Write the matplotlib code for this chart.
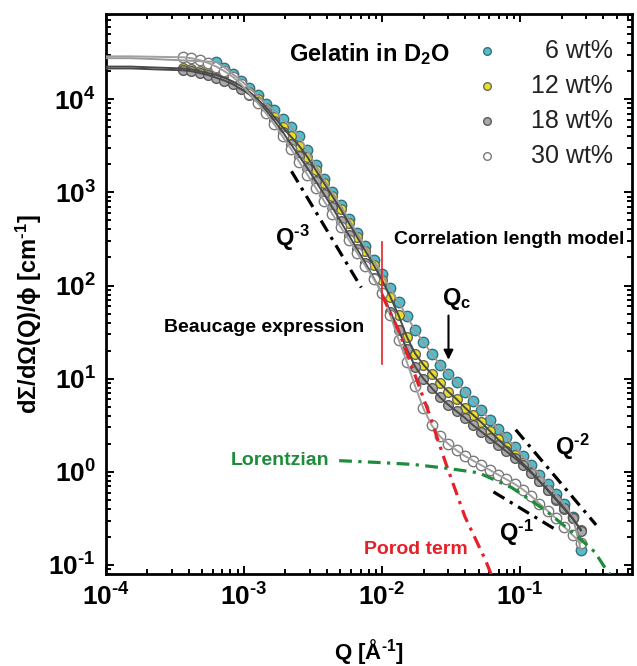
import numpy as np
import matplotlib
matplotlib.use("Agg")
import matplotlib.pyplot as plt
from matplotlib.ticker import LogLocator, FuncFormatter, NullFormatter

plt.rcParams['font.family'] = ['Liberation Sans', 'DejaVu Sans']
plt.rcParams['font.weight'] = 'bold'
plt.rcParams['axes.labelweight'] = 'bold'
plt.rcParams['mathtext.fontset'] = 'custom'
plt.rcParams['mathtext.rm'] = 'Liberation Sans:bold'
plt.rcParams['mathtext.bf'] = 'Liberation Sans:bold'
plt.rcParams['mathtext.it'] = 'Liberation Sans:bold'

# --- data (log10 values) ---
log_q = [-3.44, -3.38, -3.32, -3.26, -3.20, -3.14, -3.08, -3.02, -2.96, -2.90,
         -2.84, -2.78, -2.72, -2.66, -2.60, -2.54, -2.48, -2.42, -2.36, -2.30,
         -2.24, -2.18, -2.12, -2.06, -2.00, -1.94, -1.88, -1.82, -1.76, -1.70,
         -1.64, -1.58, -1.52, -1.46, -1.40, -1.34, -1.28, -1.22, -1.16, -1.10,
         -1.04, -0.98, -0.92, -0.86, -0.80, -0.74, -0.68, -0.62, -0.56]

log_i_6 = [np.nan, np.nan, np.nan, np.nan,
           4.40, 4.34, 4.27, 4.20, 4.12, 4.04, 3.95, 3.88, 3.79, 3.70, 3.60,
           3.45, 3.29, 3.14, 3.00, 2.86, 2.71, 2.56, 2.42, 2.27, 2.12, 1.97,
           1.82, 1.67, 1.52, 1.39, 1.27, 1.15, 1.05, 0.96, 0.86, 0.76, 0.66,
           0.56, 0.46, 0.37, 0.27, 0.17, 0.07, -0.03, -0.13, -0.24, -0.35,
           -0.48, -0.84]
log_i_12 = [4.33, 4.32, 4.30, 4.28, 4.26, 4.23, 4.19, 4.14, 4.08, 4.00, 3.91,
            3.81, 3.70, 3.60, 3.50, 3.38, 3.24, 3.10, 2.96, 2.82, 2.67, 2.52,
            2.37, 2.22, 2.06, 1.88, 1.68, 1.45, 1.27, 1.15, 1.05, 0.95, 0.86,
            0.78, 0.69, 0.61, 0.53, 0.44, 0.35, 0.27, 0.18, 0.09, 0.00, -0.10,
            -0.20, -0.30, -0.40, -0.50, -0.62]
log_i_18 = [4.31, 4.30, 4.28, 4.26, 4.23, 4.20, 4.16, 4.11, 4.05, 3.97, 3.88,
            3.77, 3.65, 3.52, 3.39, 3.26, 3.12, 2.98, 2.84, 2.69, 2.54, 2.39,
            2.24, 2.08, 1.92, 1.72, 1.52, 1.32, 1.13, 1.00, 0.90, 0.80, 0.72,
            0.65, 0.58, 0.50, 0.43, 0.36, 0.29, 0.22, 0.15, 0.07, -0.01, -0.10,
            -0.19, -0.29, -0.39, -0.50, -0.63]
log_i_30 = [4.45, 4.44, 4.42, 4.39, 4.35, 4.30, 4.24, 4.16, 4.06, 3.96, 3.85,
            3.73, 3.60, 3.47, 3.33, 3.19, 3.05, 2.91, 2.77, 2.63, 2.49, 2.35,
            2.21, 2.07, 1.92, 1.68, 1.42, 1.18, 0.92, 0.68, 0.50, 0.38, 0.30,
            0.23, 0.17, 0.12, 0.07, 0.02, -0.03, -0.08, -0.13, -0.19, -0.26,
            -0.34, -0.42, -0.50, -0.59, -0.68, -0.76]

# fit curves: plateau part below the first data point
log_q_plateau = [-4.0, -3.82, -3.64]
plateau_6 = [4.44, 4.44, 4.43]
plateau_12 = [4.35, 4.35, 4.34]
plateau_18 = [4.33, 4.33, 4.32]
plateau_30 = [4.46, 4.46, 4.455]

# model components
porod_logq = [-2.0, -1.88, -1.66, -1.54, -1.40, -1.25, -1.21]
porod_logi = [1.90, 1.52, 0.63, 0.10, -0.48, -0.95, -1.10]
lor_logq = [-2.31, -2.02, -1.78, -1.54, -1.30, -1.06, -0.82, -0.58, -0.46, -0.39, -0.35]
lor_logi = [0.12, 0.10, 0.08, 0.04, -0.01, -0.17, -0.41, -0.70, -0.86, -1.02, -1.10]
q3_logq, q3_logi = [-2.655, -2.15], [3.226, 1.978]
q2_logq, q2_logi = [-1.032, -0.45], [0.452, -0.57]
q1_logq, q1_logi = [-1.193, -0.738], [-0.215, -0.624]

labels = ['6 wt%', '12 wt%', '18 wt%', '30 wt%']
face_colors = ['#4FC0D0', '#E8E02A', '#A9A9A9', '#FFFFFF']
edge_colors = ['#3C6E78', '#6A6A50', '#5A5A5A', '#7A7A7A']
fit_colors = ['#9A9A9A', '#4A4A4A', '#4A4A4A', '#A0A0A0']
marker_sizes = [7.5, 7, 7, 7.5]

HY = '\u2010'  # short hyphen used in exponents

q = 10 ** np.array(log_q)
series = [log_i_6, log_i_12, log_i_18, log_i_30]
plateaus = [plateau_6, plateau_12, plateau_18, plateau_30]

fig = plt.figure(figsize=(6.37, 6.66), dpi=100)
ax = fig.add_axes([0.1659, 0.1381, 0.8262, 0.8408])

for li, pl, fc, ec, lc, ms in zip(series, plateaus, face_colors, edge_colors,
                                   fit_colors, marker_sizes):
    inten = 10 ** np.array(li)
    ok = ~np.isnan(inten)
    ax.plot(q[ok], inten[ok], 'o', ms=ms, mfc=fc, mec=ec, mew=1.0, zorder=3)
    fq = np.concatenate([10 ** np.array(log_q_plateau), q[ok]])
    fi = np.concatenate([10 ** np.array(pl), inten[ok]])
    ax.plot(fq, fi, '-', color=lc, lw=1.4, zorder=4)

dashdot = (0, (4, 2, 1, 2))
ax.plot(10 ** np.array(q3_logq), 10 ** np.array(q3_logi), color='black', lw=2.3, ls=dashdot, zorder=5)
ax.plot(10 ** np.array(q2_logq), 10 ** np.array(q2_logi), color='black', lw=2.3, ls=dashdot, zorder=5)
ax.plot(10 ** np.array(q1_logq), 10 ** np.array(q1_logi), color='black', lw=2.3, ls=dashdot, zorder=5)
ax.plot(10 ** np.array(porod_logq), 10 ** np.array(porod_logi), color='#E62028', lw=2.3, ls=dashdot, zorder=5)
ax.plot(10 ** np.array(lor_logq), 10 ** np.array(lor_logi), color='#1E8C3A', lw=2.3, ls=dashdot, zorder=5)
ax.plot([0.01, 0.01], [290, 14.5], color='#E62028', lw=1.2, zorder=6)

# annotations
ax.text(2.25e-3, 328, r'$\mathbf{Q^{%s3}}$' % HY, fontsize=17, ha='center', va='center')
ax.text(0.18, 1.86, r'$\mathbf{Q^{%s2}}$' % HY, fontsize=17, ha='left', va='center')
ax.text(0.0698, 0.221, r'$\mathbf{Q^{%s1}}$' % HY, fontsize=17, ha='left', va='center')
ax.text(0.0272, 70.8, r'$\mathbf{Q_{c}}$', fontsize=17, ha='left', va='center')
ax.annotate('', xy=(0.0303, 14.9), xytext=(0.0303, 51),
            arrowprops=dict(arrowstyle='-|>', color='black', lw=1.5, mutation_scale=14))
ax.text(7.4e-3, 35.3, 'Beaucage expression', fontsize=14, ha='right', va='center')
ax.text(0.0122, 313, 'Correlation length model', fontsize=14, ha='left', va='center')
ax.text(4.14e-3, 1.31, 'Lorentzian', fontsize=14, color='#1E8C3A', ha='right', va='center')
ax.text(7.4e-3, 0.145, 'Porod term', fontsize=14, color='#E62028', ha='left', va='center')

# legend drawn by hand
ax.text(0.348, 0.929, r'Gelatin in D$_\mathbf{2}$O', fontsize=17, transform=ax.transAxes,
        ha='left', va='center')
rows = [0.9339, 0.8714, 0.8089, 0.7464]
for y, lab, fc, ec in zip(rows, labels, face_colors, edge_colors):
    ax.plot([0.7245], [y], 'o', ms=5.5, mfc=fc, mec=ec, mew=1.0, transform=ax.transAxes)
    ax.text(0.9636, y, lab, fontsize=18, fontweight='normal', color='#222222',
            transform=ax.transAxes, ha='right', va='center')

ax.set_xscale('log')
ax.set_yscale('log')
ax.set_xlim(1e-4, 0.645)
ax.set_ylim(0.08, 8.2e4)

fmt = FuncFormatter(lambda v, p: r'$\mathbf{10^{%s%d}}$' % (HY if v < 1 else '', abs(round(np.log10(v)))))
ax.xaxis.set_major_locator(LogLocator(base=10, numticks=10))
ax.yaxis.set_major_locator(LogLocator(base=10, numticks=10))
ax.xaxis.set_minor_locator(LogLocator(base=10, subs=np.arange(2, 10), numticks=20))
ax.yaxis.set_minor_locator(LogLocator(base=10, subs=np.arange(2, 10), numticks=20))
ax.xaxis.set_major_formatter(fmt)
ax.yaxis.set_major_formatter(fmt)
ax.xaxis.set_minor_formatter(NullFormatter())
ax.yaxis.set_minor_formatter(NullFormatter())
ax.tick_params(which='both', direction='in', top=True, right=True, width=1.4)
ax.tick_params(which='major', length=6, labelsize=19, pad=7)
ax.tick_params(which='minor', length=3.5)
for s in ax.spines.values():
    s.set_linewidth(2.0)

ax.set_ylabel(r'd$\Sigma$/d$\Omega$(Q)/$\phi$ [cm$^{\mathbf{%s1}}$]' % HY, fontsize=17, fontweight='bold')
ax.set_xlabel(r'Q [Å$^{\mathbf{%s1}}$]' % HY, fontsize=16, fontweight='bold')
ax.yaxis.set_label_coords(-0.117, 0.464)
ax.xaxis.set_label_coords(0.5, -0.112)

fig.savefig('out.png', dpi=100)
